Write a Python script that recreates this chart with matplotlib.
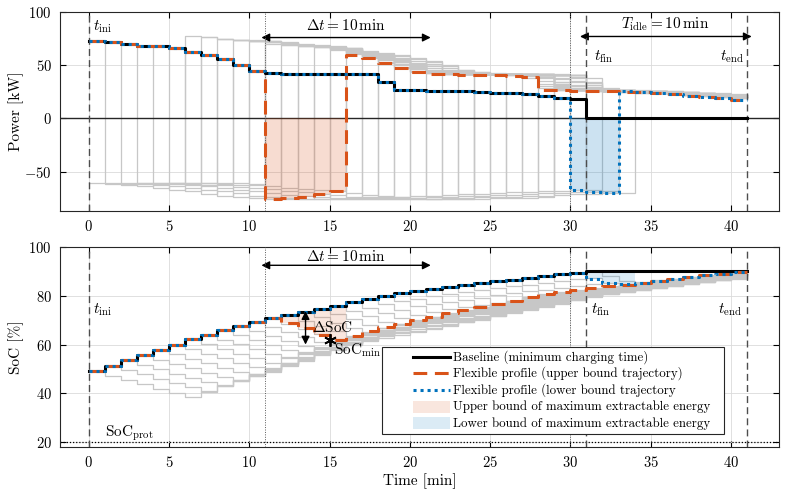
import numpy as np
import matplotlib
matplotlib.use("Agg")
import matplotlib.pyplot as plt
from matplotlib.lines import Line2D
from matplotlib.patches import Rectangle

plt.rcParams.update({
    "font.family": "serif",
    "font.serif": ["cmr10", "DejaVu Serif"],
    "mathtext.fontset": "cm",
    "axes.formatter.use_mathtext": True,
    "font.size": 10.5,
})

# ---------------- data (values per 1-min interval, t = 0..40) ----------------
t_edges = np.arange(0, 42)          # 0 ... 41 min
t_ini, t_fin, t_end = 0, 31, 41
t_flex_up, t_flex_lo = 11, 30

p_base = [72.6, 71.4, 69.5, 68.5, 67.6, 66.4, 62.3, 59.2, 55.4, 50.4, 45.0,
          43.0, 42.0, 42.0, 42.0, 42.0, 42.0, 42.0, 34.0, 27.0, 26.5, 26.2,
          25.8, 25.3, 24.8, 24.3, 23.7, 23.0, 21.5, 19.5, 18.0,
          0, 0, 0, 0, 0, 0, 0, 0, 0, 0]
soc_base = [49.0, 51.3, 53.5, 55.7, 57.9, 60.0, 62.1, 64.1, 65.9, 67.7, 69.3,
            70.7, 72.0, 73.4, 74.7, 76.0, 77.3, 78.6, 80.0, 81.0, 81.9, 82.7,
            83.5, 84.3, 85.1, 85.9, 86.6, 87.4, 88.1, 88.8, 89.4,
            90.0, 90.0, 90.0, 90.0, 90.0, 90.0, 90.0, 90.0, 90.0, 90.0]

p_up = p_base[:11] + [-75.5, -75.0, -73.5, -71.0, -68.5,
                      60.0, 57.0, 52.3, 47.3, 43.5, 41.5, 41.3, 41.0, 40.8, 40.5,
                      40.2, 38.5, 27.0, 26.5, 26.2, 26.0, 25.6, 25.2, 24.6, 23.8,
                      22.8, 21.5, 20.2, 19.0, 17.5]
soc_up = soc_base[:11] + [70.7, 68.8, 66.6, 64.1, 62.0, 63.7, 65.5, 67.1, 68.6, 70.0,
                          71.5, 72.9, 74.2, 75.5, 76.8, 78.0, 79.3, 80.6, 81.5, 82.3,
                          83.1, 83.9, 84.6, 85.4, 86.2, 86.9, 87.7, 88.4, 89.1, 89.8]

p_lo = p_base[:30] + [-67.0, -69.0, -70.0,
                      25.4, 24.6, 23.8, 22.8, 21.5, 20.2, 19.0, 17.5]
soc_lo = soc_base[:31] + [87.0, 85.2, 84.7, 85.4, 86.2, 86.9, 87.7, 88.4, 89.1, 89.8]

soc_min_pt = (15.0, 62.0)
soc_prot = 20

# charger characteristic (SoC -> charging / discharging power)
chg_soc = [30, 38, 41, 44, 47, 49, 51.3, 53.5, 55.7, 57.9, 60.0, 62.1, 64.1, 65.9,
           67.7, 69.3, 70.7, 72.0, 79.0, 79.8, 80.5, 81.0, 82.0, 84.0, 86.0, 88.0,
           89.4, 90.0, 92.0, 95.0]
chg_pw = [80, 78, 76, 74.5, 73.3, 72.6, 71.4, 69.5, 68.5, 67.6, 66.4, 62.3, 59.2, 55.4,
          50.4, 45.0, 43.0, 42.0, 41.0, 34.0, 29.0, 27.0, 26.5, 25.5, 23.8, 21.5,
          19.5, 18.0, 15.0, 11.0]
dis_soc = [30, 49, 55, 62, 66, 70, 75, 82, 86, 90]
dis_pw = [-60, -61, -63, -68.5, -73, -75.5, -76, -73, -70, -67]
# start minute and discharge duration of each gray candidate trajectory
gray_start = list(range(0, 32))
gray_len = [6, 6, 6, 6, 6, 6, 5, 5, 5, 5, 5, 5, 5, 5, 5, 5,
            5, 5, 5, 5, 4, 4, 4, 4, 4, 4, 3, 3, 3, 3, 3, 3]
c_chg, c_dis = 0.0315, 0.029

# ---------------- gray family of flexible trajectories ----------------
def simulate(k, L):
    n = len(p_base)
    P = np.zeros(n)
    S = np.zeros(n + 1)
    S[:k + 1] = soc_base[:k + 1]
    P[:k] = p_base[:k]
    for i in range(k, n):
        s = S[i]
        if i < k + L:
            p = np.interp(s, dis_soc, dis_pw)
            S[i + 1] = s + c_dis * p
        else:
            p = np.interp(s, chg_soc, chg_pw)
            S[i + 1] = s + c_chg * p
        P[i] = p
    return P, S[:n]

gray = [simulate(k, L) for k, L in zip(gray_start, gray_len)]

# ---------------- plotting ----------------
ORANGE = "#D95319"
BLUE = "#0072BD"
GRAY = "0.78"

fig = plt.figure(figsize=(7.86, 4.94), dpi=100)
ax1 = fig.add_axes([0.0763, 0.5729, 0.9148, 0.4028])
ax2 = fig.add_axes([0.0763, 0.0951, 0.9148, 0.4049])

def step(ax, vals, **kw):
    v = np.asarray(vals, dtype=float)
    ax.step(t_edges, np.append(v, v[-1]), where="post", **kw)

def fill(ax, lo, hi, t0, t1, color, alpha):
    lo = np.asarray(lo, float)[t0:t1]
    hi = np.asarray(hi, float)[t0:t1]
    ax.fill_between(t_edges[t0:t1 + 1], np.append(lo, lo[-1]), np.append(hi, hi[-1]),
                    step="post", color=color, alpha=alpha, lw=0, zorder=3)

for P, S in gray:
    step(ax1, P, color=GRAY, lw=0.9, zorder=2)
    step(ax2, S, color=GRAY, lw=0.9, zorder=2)

DASH = (0, (4.5, 2.5))
DOT = (0, (1, 1.3))

# power panel
zero = np.zeros(len(p_base))
fill(ax1, p_up, zero, t_flex_up, t_flex_up + 5, ORANGE, 0.2)
fill(ax1, p_lo, zero, t_flex_lo, t_flex_lo + 3, BLUE, 0.2)
ax1.axhline(0, color="0.15", lw=1.0, zorder=2.5)
step(ax1, p_base, color="k", lw=2.2, zorder=4)
step(ax1, p_up, color=ORANGE, lw=2.2, ls=DASH, zorder=5)
step(ax1, p_lo, color=BLUE, lw=2.2, ls=DOT, zorder=6)

# SoC panel
fill(ax2, soc_up, soc_base, t_flex_up + 1, t_flex_up + 5, ORANGE, 0.14)
fill(ax2, soc_lo, soc_base, t_flex_lo + 1, t_flex_lo + 4, BLUE, 0.14)
ax2.axhline(soc_prot, color="k", lw=0.9, ls=(0, (1, 1.5)), zorder=2.5)
step(ax2, soc_base, color="k", lw=2.2, zorder=4)
step(ax2, soc_up, color=ORANGE, lw=2.2, ls=DASH, zorder=5)
step(ax2, soc_lo, color=BLUE, lw=2.2, ls=DOT, zorder=6)

for ax in (ax1, ax2):
    for tv in (t_ini, t_fin, t_end):
        ax.axvline(tv, color="0.3", lw=1.0, ls=(0, (5, 3)), zorder=3.5)
    for tv in (t_flex_up, t_flex_lo):
        ax.axvline(tv, color="0.35", lw=0.7, ls=(0, (1, 1.5)), zorder=3.5)
    ax.set_xlim(-1.8, 43)
    ax.set_xticks(np.arange(0, 41, 5))
    ax.grid(True, color="0.86", lw=0.6, zorder=0)
    ax.set_axisbelow(True)
    ax.tick_params(direction="in", top=True, right=True, length=4, width=0.8,
                   labelsize=10.5, pad=6)
    for sp in ax.spines.values():
        sp.set_linewidth(0.8)
        sp.set_color("0.15")

ax1.set_ylim(-87, 100)
ax1.set_yticks([-50, 0, 50, 100])
ax1.set_ylabel("Power [kW]", fontsize=11)
ax2.set_ylim(18, 100)
ax2.set_yticks([20, 40, 60, 80, 100])
ax2.set_ylabel("SoC [%]", fontsize=11)
ax2.set_xlabel("Time [min]", fontsize=11, labelpad=2)
ax1.yaxis.set_label_coords(-0.05, 0.5)
ax2.yaxis.set_label_coords(-0.05, 0.5)

arrow = dict(arrowstyle="<|-|>", color="k", lw=1.0, mutation_scale=12, shrinkA=0, shrinkB=0)
fs = 11
# annotations power
ax1.text(0.25, 86, r"$t_{\mathrm{ini}}$", fontsize=fs, va="center", ha="left")
ax1.annotate("", xy=(10.75, 76), xytext=(21.3, 76), arrowprops=arrow)
ax1.text(16.0, 87.5, r"$\Delta t = 10\,\mathrm{min}$", fontsize=fs, ha="center", va="center")
ax1.annotate("", xy=(30.6, 77), xytext=(41.3, 77), arrowprops=arrow)
ax1.text(35.9, 89, r"$T_{\mathrm{idle}} = 10\,\mathrm{min}$", fontsize=fs, ha="center", va="center")
ax1.text(31.45, 58, r"$t_{\mathrm{fin}}$", fontsize=fs, ha="left", va="center")
ax1.text(40.8, 58, r"$t_{\mathrm{end}}$", fontsize=fs, ha="right", va="center")

# annotations SoC
ax2.text(0.25, 74.4, r"$t_{\mathrm{ini}}$", fontsize=fs, va="center", ha="left")
ax2.annotate("", xy=(10.75, 92.5), xytext=(21.3, 92.5), arrowprops=arrow)
ax2.text(16.0, 96.3, r"$\Delta t = 10\,\mathrm{min}$", fontsize=fs, ha="center", va="center")
ax2.text(31.3, 74.4, r"$t_{\mathrm{fin}}$", fontsize=fs, ha="left", va="center")
ax2.text(40.7, 74.4, r"$t_{\mathrm{end}}$", fontsize=fs, ha="right", va="center")
ax2.annotate("", xy=(13.5, 73.7), xytext=(13.5, 60.0), arrowprops=arrow, zorder=7)
ax2.text(13.9, 66.9, r"$\Delta\mathrm{SoC}$", fontsize=fs, ha="left", va="center", zorder=7)
ax2.plot([soc_min_pt[0]], [soc_min_pt[1]], marker=(6, 2, 0), color="k", ms=9, mew=1.3,
         zorder=8, ls="none")
ax2.text(15.3, 57.7, r"$\mathrm{SoC}_{\mathrm{min}}$", fontsize=fs, ha="left", va="center")
ax2.text(1.0, 23.7, r"$\mathrm{SoC}_{\mathrm{prot}}$", fontsize=fs, ha="left", va="center")

# legend (drawn manually to match the original box geometry, figure pixel coords)
W, H = 786.0, 494.0
def fx(px):
    return px / W
def fy(py):
    return 1 - py / H

labels = [
    "Baseline (minimum charging time)",
    "Flexible profile (upper bound trajectory)",
    "Flexible profile (lower bound trajectory",
    "Upper bound of maximum extractable energy",
    "Lower bound of maximum extractable energy",
]
box = Rectangle((fx(382), fy(434.3)), fx(724) - fx(382), fy(346.7) - fy(434.3),
                transform=fig.transFigure, facecolor="white", edgecolor="0.15",
                lw=0.8, zorder=20)
fig.add_artist(box)
rows = [356.7, 373.3, 390.0, 406.7, 423.3]
hx0, hx1, tx = 413, 450, 453
styles = [dict(color="k", lw=2.2), dict(color=ORANGE, lw=2.2, ls=DASH),
          dict(color=BLUE, lw=2.2, ls=DOT)]
for i, (ry, lab) in enumerate(zip(rows, labels)):
    if i < 3:
        fig.add_artist(Line2D([fx(hx0), fx(hx1)], [fy(ry), fy(ry)],
                              transform=fig.transFigure, zorder=21, **styles[i]))
    else:
        col = ORANGE if i == 3 else BLUE
        fig.add_artist(Rectangle((fx(hx0), fy(ry + 6)), fx(hx1) - fx(hx0), fy(ry - 6) - fy(ry + 6),
                                 transform=fig.transFigure, facecolor=col, alpha=0.14,
                                 lw=0, zorder=21))
    fig.text(fx(tx), fy(ry), lab, fontsize=9.3, ha="left", va="center", zorder=22)

fig.savefig("out.png", dpi=100)
